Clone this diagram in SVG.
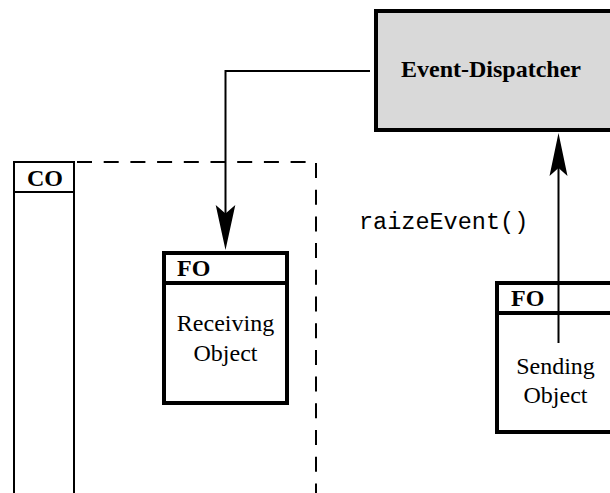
<svg xmlns="http://www.w3.org/2000/svg" width="610" height="493" viewBox="0 0 610 493">
  <style>
    .bold { font-family: "Liberation Serif", "Times New Roman", serif; font-weight: bold; font-size: 24px; fill: #000; }
    .label { font-family: "Liberation Serif", "Times New Roman", serif; font-size: 24px; fill: #000; }
    .code { font-family: "Liberation Mono", "Courier New", monospace; font-size: 23.5px; fill: #000; }
    .heavy { fill: #fff; stroke: #000; stroke-width: 4; }
    .thin { fill: #fff; stroke: #000; stroke-width: 2; }
    .dash { fill: none; stroke: #000; stroke-width: 2; stroke-dasharray: 15 11.7; }
    .wire { fill: none; stroke: #000; stroke-width: 2; }
    .head { fill: #000; stroke: none; }
  </style>

  <rect width="610" height="493" fill="#fff"/>

  <!-- container object: dashed scope boundary plus its column -->
  <g id="container">
    <line class="dash" x1="77" y1="162" x2="316" y2="162"/>
    <line class="dash" x1="316" y1="163" x2="316" y2="500"/>
    <rect class="thin" x="14" y="162" width="60" height="340"/>
    <line class="wire" x1="14" y1="192" x2="74" y2="192"/>
    <text class="bold" x="27" y="186">CO</text>
  </g>

  <!-- central dispatcher -->
  <g id="dispatcher">
    <rect x="376" y="11" width="250" height="119" fill="#d9d9d9" stroke="#000" stroke-width="4"/>
    <text class="bold" x="401" y="77">Event-Dispatcher</text>
  </g>

  <!-- receiving object -->
  <g id="receiver">
    <rect class="heavy" x="164" y="253" width="123" height="150"/>
    <line stroke="#000" stroke-width="4" x1="164" y1="283" x2="287" y2="283"/>
    <text class="bold" x="177" y="276">FO</text>
    <text class="label" x="225.5" y="331" text-anchor="middle">Receiving</text>
    <text class="label" x="225.5" y="361" text-anchor="middle">Object</text>
  </g>

  <!-- sending object -->
  <g id="sender">
    <rect class="heavy" x="497" y="283" width="130" height="149"/>
    <line stroke="#000" stroke-width="4" x1="497" y1="313" x2="627" y2="313"/>
    <text class="bold" x="511" y="306">FO</text>
    <text class="label" x="555.5" y="374" text-anchor="middle">Sending</text>
    <text class="label" x="555.5" y="403" text-anchor="middle">Object</text>
  </g>

  <!-- connectors -->
  <g id="connectors">
    <polyline class="wire" points="370,71 225.5,71 225.5,214"/>
    <polygon class="head" points="225.5,250 215.7,205 225.5,213.5 235.3,205"/>
    <line class="wire" x1="558.5" y1="343" x2="558.5" y2="168"/>
    <polygon class="head" points="558.5,133 549.5,176 558.5,168 567.5,176"/>
    <text class="code" x="359" y="229">raizeEvent()</text>
  </g>
</svg>
